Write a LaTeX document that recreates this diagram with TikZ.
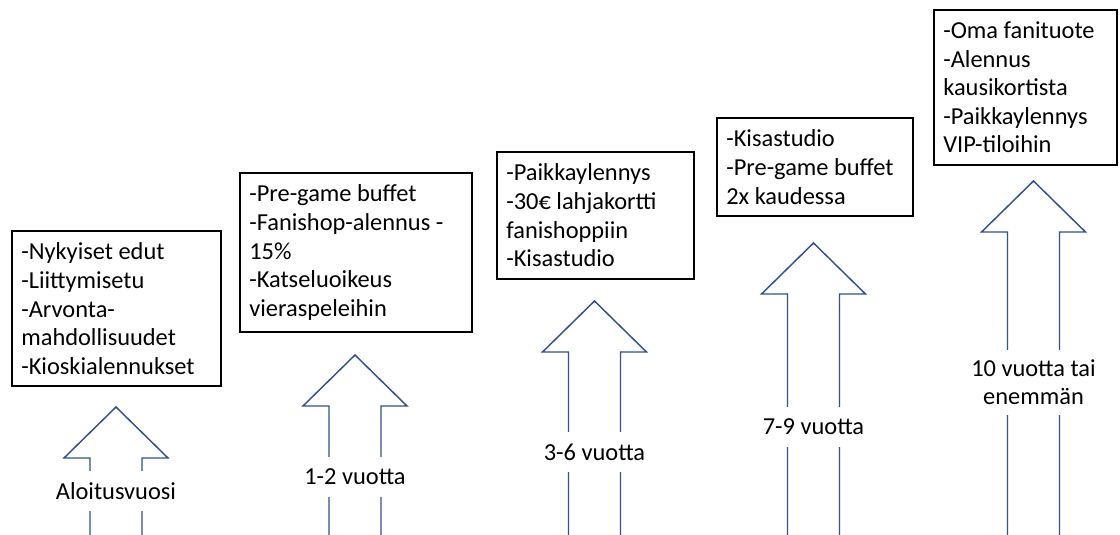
\documentclass[tikz,border=0pt]{standalone}
\usepackage{fontspec}
\setmainfont{Carlito}
\usepackage{tikz}
\usetikzlibrary{positioning,calc}
\definecolor{ArrowBlue}{RGB}{47,82,143}
\newcommand{\perkfont}{\fontsize{18.3}{21.4}\selectfont}
\tikzset{
  perk/.style={draw=black,line width=1.5pt,fill=white,anchor=north west,
               align=flush left,inner xsep=7pt,inner ysep=9pt,font=\perkfont},
  yearlbl/.style={fill=white,align=center,inner xsep=2pt,inner ysep=0pt,
                  minimum height=30pt,font=\perkfont},
  uparrow/.style={draw=ArrowBlue,line width=1.1pt,line join=miter},
}

\begin{document}
\begin{tikzpicture}[x=0.75pt,y=-0.75pt]
  \useasboundingbox (0,0) rectangle (1120,535);
  % benefit boxes
  \node[perk,text width=142.75pt] (p1) at (11,230)
    {-Nykyiset edut\\-Liittymisetu\\-Arvonta-\\mahdollisuudet\\-Kioskialennukset};
  \node[perk,text width=160pt] (p2) at (239,172)
    {-Pre-game buffet\\-Fanishop-alennus -\\15\%\\-Katseluoikeus\\vieraspeleihin};
  \node[perk,text width=133.75pt] (p3) at (496,151)
    {-Paikkaylennys\\-30€ lahjakortti\\fanishoppiin\\-Kisastudio};
  \node[perk,text width=133pt] (p4) at (716,117)
    {-Kisastudio\\-Pre-game buffet\\2x kaudessa};
  \node[perk,text width=123.25pt] (p5) at (933,9)
    {-Oma fanituote\\-Alennus\\kausikortista\\-Paikkaylennys\\VIP-tiloihin};
  % block arrows, shafts run off the page
  \coordinate (tip1) at (116,407);
  \coordinate (tip2) at (355,355);
  \coordinate (tip3) at (594.5,301);
  \coordinate (tip4) at (813.5,243);
  \coordinate (tip5) at (1033.5,181);
  \draw[uparrow] (tip1) -- ++(52,51) -- ++(-26,0) -- ++(0,400) -- ++(-52,0) -- ++(0,-400) -- ++(-26,0) -- cycle;
  \draw[uparrow] (tip2) -- ++(52,51) -- ++(-26,0) -- ++(0,400) -- ++(-52,0) -- ++(0,-400) -- ++(-26,0) -- cycle;
  \draw[uparrow] (tip3) -- ++(52,51) -- ++(-26,0) -- ++(0,400) -- ++(-52,0) -- ++(0,-400) -- ++(-26,0) -- cycle;
  \draw[uparrow] (tip4) -- ++(52,51) -- ++(-26,0) -- ++(0,400) -- ++(-52,0) -- ++(0,-400) -- ++(-26,0) -- cycle;
  \draw[uparrow] (tip5) -- ++(52,51) -- ++(-26,0) -- ++(0,400) -- ++(-52,0) -- ++(0,-400) -- ++(-26,0) -- cycle;
  % year labels
  \node[yearlbl] (yr1) at (116,491) {Aloitusvuosi};
  \node[yearlbl] (yr2) at (355,477) {1-2 vuotta};
  \node[yearlbl] (yr3) at (594.5,452) {3-6 vuotta};
  \node[yearlbl] (yr4) at (813.5,427) {7-9 vuotta};
  \node[yearlbl,minimum height=48.75pt] (yr5) at (1033.5,382) {10 vuotta tai\\enemmän};
\end{tikzpicture}
\end{document}
